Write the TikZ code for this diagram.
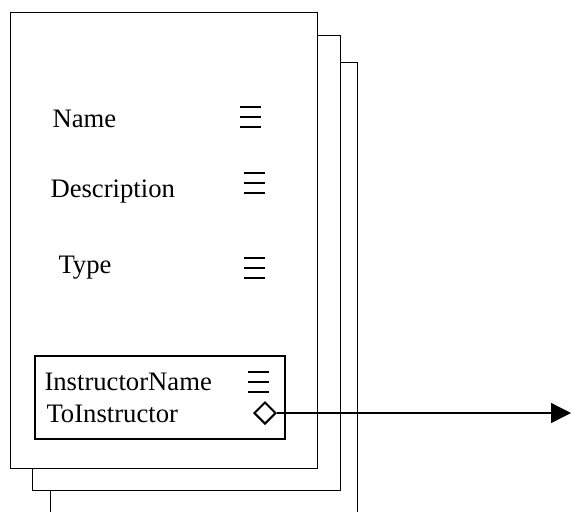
\documentclass[tikz,border=0pt]{standalone}
\usepackage{fontspec}
\setmainfont{Liberation Serif}
\usetikzlibrary{arrows.meta,shapes.geometric}
\tikzset{
  lbl/.style={anchor=base west,inner sep=0pt,font=\fontsize{20}{24}\selectfont},
  eqv/.style={minimum width=15.75pt,minimum height=20pt,inner sep=0pt,
    path picture={\foreach \k in {-7.5,0,7.5}
      \draw[line width=1.5pt] ([yshift=\k pt]path picture bounding box.west) -- ([yshift=\k pt]path picture bounding box.east);}},
  link/.style={draw,diamond,fill=white,line width=1.5pt,inner sep=0pt,minimum width=16.5pt,minimum height=16.5pt}
}
\begin{document}
\begin{tikzpicture}[x=0.75pt,y=-0.75pt,line width=0.75pt]
\useasboundingbox (0,0) rectangle (571,512);
\draw (340,62) -- (357,62) -- (357,512);
\draw (50,490) -- (50,512);
\draw (317,35) -- (340,35) -- (340,490) -- (32,490) -- (32,468);
\draw (10,12) rectangle (317,468);

\node[lbl] (name) at (52,127) {Name};
\node[lbl] (desc) at (50,197) {Description};
\node[lbl] (type) at (58,273) {Type};
\node[eqv] (nameq) at (250.5,117) {};
\node[eqv] (desceq) at (254.5,183) {};
\node[eqv] (typeq) at (254.5,268) {};

\draw[line width=1.5pt] (35,356) rectangle (285,439);
\node[lbl] (instr) at (44,390) {InstructorName};
\node[lbl] (toinstr) at (46,422) {ToInstructor};
\node[eqv] (instreq) at (258.5,382) {};
\node[link] (dia) at (265,413) {};
\coordinate (out) at (571,413);
\draw[line width=1pt,-{Triangle[length=15pt,width=15pt]}] (dia.east) -- (out);
\end{tikzpicture}
\end{document}
